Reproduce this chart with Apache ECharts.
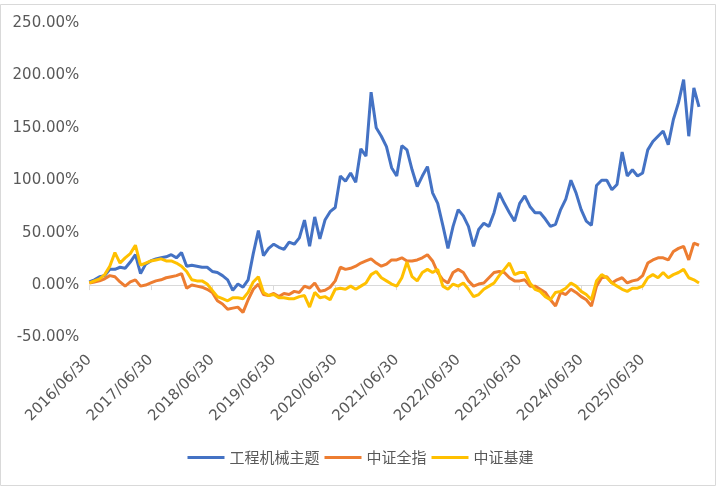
<!DOCTYPE html>
<html><head><meta charset="utf-8">
<script src="https://cdn.jsdelivr.net/npm/echarts@6/dist/echarts.min.js"></script>
<style>html,body{margin:0;padding:0;background:#fff}#c{width:721px;height:490px}</style>
</head><body><div id="c"></div>
<script>
// Monthly sample points, 2016/06/30 .. 2026/05/31 (cumulative return, %)
const seriesNames = ['工程机械主题', '中证全指', '中证基建'];
const blueVals = [3,5,8,9,15,15,17,16,22,29,11,20,23,25,26,27,29,26,31,18,19,18,17,17,13,12,9,5,-5,1,-2,5,30,52,28,35,39,36,34,41,39,45,62,37,65,44,62,70,74,104,99,107,98,130,123,184,150,142,132,112,104,133,129,110,94,104,113,88,78,57,35,56,72,66,56,37,53,59,56,69,88,78,69,61,78,85,75,69,69,63,56,58,72,82,100,88,72,61,57,95,100,100,91,96,127,104,110,104,107,129,137,142,147,134,158,174,196,142,188,170];
const orangeVals = [2,3,4,6,9,8,3,-1,3,5,-1,0,2,4,5,7,8,9,11,-3,0,-1,-2,-4,-7,-15,-18,-23,-22,-21,-26,-14,-4,1,-9,-10,-8,-11,-8,-9,-6,-7,-1,-3,2,-6,-5,-2,4,17,15,16,18,21,23,25,21,18,20,24,24,26,23,23,24,26,29,23,12,5,2,12,15,12,4,-1,1,2,7,12,13,12,7,4,4,5,-1,-1,-4,-7,-14,-20,-7,-9,-4,-7,-11,-14,-20,-1,7,8,2,5,7,2,4,5,9,21,24,26,26,24,32,35,37,24,40,38];
const yellowVals = [2,4,6,10,18,31,21,26,30,38,19,21,23,24,25,23,23,21,18,13,5,4,4,1,-5,-11,-13,-15,-12,-12,-13,-7,3,8,-7,-10,-9,-12,-12,-13,-13,-11,-10,-21,-7,-12,-11,-14,-4,-3,-4,-1,-4,-1,2,10,13,7,4,1,-1,7,22,8,4,12,15,12,15,-1,-4,1,-1,2,-4,-11,-9,-4,-1,2,9,15,21,10,12,12,2,-4,-6,-11,-14,-7,-6,-3,2,-1,-6,-9,-14,4,10,7,2,-1,-4,-6,-3,-3,-1,7,10,7,12,7,10,12,15,7,5,2];
const yTicks = [-50, 0, 50, 100, 150, 200, 250];

// month-end date categories
const categories = [];
for (let i = 0; i < blueVals.length; i++) {
  const mi = 5 + i; // June 2016
  const y = 2016 + Math.floor(mi / 12);
  const mo = mi % 12;
  const d = new Date(Date.UTC(y, mo + 1, 0)).getUTCDate();
  categories.push(y + '/' + String(mo + 1).padStart(2, '0') + '/' + String(d).padStart(2, '0'));
}
const isYearTick = (idx, val) => /\/06\/30$/.test(val);

const chart = echarts.init(document.getElementById('c'), null, {renderer: 'canvas'});
const txt = '#595959';
const font = '"DejaVu Sans", "Noto Sans CJK SC", sans-serif';
chart.setOption({
  animation: false,
  color: ['#4472C4', '#ED7D31', '#FFC000'],
  graphic: [{
    type: 'rect', shape: {x: 0.5, y: 4.5, width: 715, height: 481},
    style: {fill: 'none', stroke: '#D9D9D9', lineWidth: 1}, silent: true, z: -1
  }],
  grid: {left: 89.3, right: 22, top: 23, bottom: 152.5, containLabel: false},
  legend: {
    data: seriesNames, bottom: 20, left: 'center',
    icon: 'rect', itemWidth: 37, itemHeight: 3, itemGap: 5,
    textStyle: {color: txt, fontSize: 15, fontFamily: '"Noto Sans CJK SC", sans-serif'}
  },
  xAxis: [{
    type: 'category', data: categories, boundaryGap: false,
    axisLine: {show: true, onZero: true, lineStyle: {color: '#D9D9D9', width: 1}},
    axisTick: {show: true, interval: isYearTick, length: 5, lineStyle: {color: '#D9D9D9'}},
    axisLabel: {show: false},
    splitLine: {show: false}
  }, {
    type: 'category', data: categories, boundaryGap: false, position: 'bottom',
    axisLine: {show: false, onZero: false},
    axisTick: {show: false},
    axisLabel: {
      show: true, interval: isYearTick, rotate: 45, margin: 20, padding: [10, 0, 0, 0],
      color: txt, fontSize: 15, fontFamily: font
    },
    splitLine: {show: false}
  }],
  yAxis: {
    type: 'value', min: yTicks[0], max: yTicks[yTicks.length - 1], interval: 50,
    axisLine: {show: false}, axisTick: {show: false}, splitLine: {show: false},
    axisLabel: {
      margin: 10, color: txt, fontSize: 15, fontFamily: font,
      formatter: v => v.toFixed(2) + '%'
    }
  },
  series: [
    {name: seriesNames[0], type: 'line', data: blueVals, showSymbol: false, lineStyle: {width: 3}, xAxisIndex: 0},
    {name: seriesNames[1], type: 'line', data: orangeVals, showSymbol: false, lineStyle: {width: 3}, xAxisIndex: 0},
    {name: seriesNames[2], type: 'line', data: yellowVals, showSymbol: false, lineStyle: {width: 3}, xAxisIndex: 0}
  ]
});
</script></body></html>
